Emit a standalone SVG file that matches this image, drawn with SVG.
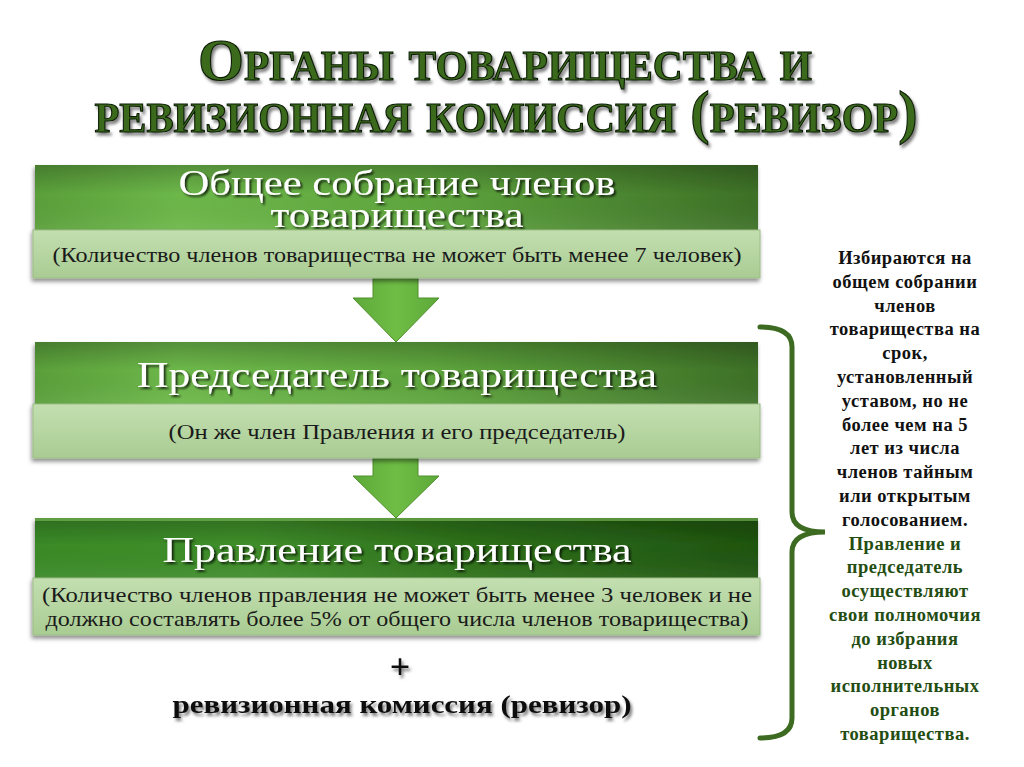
<svg xmlns="http://www.w3.org/2000/svg" width="1024" height="767" viewBox="0 0 1024 767">
  <defs>
    <linearGradient id="gh1" x1="0" y1="0" x2="1" y2="0">
      <stop offset="0" stop-color="#5a9f3a"/>
      <stop offset="0.2" stop-color="#6db84a"/>
      <stop offset="0.55" stop-color="#5ea53d"/>
      <stop offset="1" stop-color="#3d7027"/>
    </linearGradient>
    <linearGradient id="gh3" x1="0" y1="0" x2="1" y2="0">
      <stop offset="0" stop-color="#3a8a27"/>
      <stop offset="0.3" stop-color="#3f8e2a"/>
      <stop offset="0.6" stop-color="#2d7019"/>
      <stop offset="1" stop-color="#1f5410"/>
    </linearGradient>
    <linearGradient id="gv" x1="0" y1="0" x2="0" y2="1">
      <stop offset="0" stop-color="#000" stop-opacity="0.22"/>
      <stop offset="0.45" stop-color="#000" stop-opacity="0"/>
      <stop offset="1" stop-color="#fff" stop-opacity="0.06"/>
    </linearGradient>
    <linearGradient id="gl" x1="0" y1="0" x2="0" y2="1">
      <stop offset="0" stop-color="#c3dfb0"/>
      <stop offset="1" stop-color="#a9cc93"/>
    </linearGradient>
    <linearGradient id="ga" x1="0" y1="0" x2="1" y2="0">
      <stop offset="0" stop-color="#5ea93a"/>
      <stop offset="0.5" stop-color="#6fbd45"/>
      <stop offset="1" stop-color="#5ea93a"/>
    </linearGradient>
    <filter id="sh" x="-5%" y="-20%" width="110%" height="150%">
      <feDropShadow dx="-1" dy="3" stdDeviation="2" flood-color="#000" flood-opacity="0.45"/>
    </filter>
    <filter id="ts" x="-5%" y="-30%" width="110%" height="160%">
      <feDropShadow dx="2" dy="2" stdDeviation="1.2" flood-color="#000" flood-opacity="0.75"/>
    </filter>
    <filter id="ts2" x="-5%" y="-30%" width="110%" height="160%">
      <feDropShadow dx="2" dy="3" stdDeviation="1.5" flood-color="#000" flood-opacity="0.5"/>
    </filter>
  </defs>
  <style>
    .title { font-family: "Liberation Serif", "DejaVu Serif", serif; font-weight: bold; font-size: 60px; font-variant: small-caps; fill: #3a6a1d; stroke: #0c1a06; stroke-width: 1.1px; text-anchor: middle; }
    .head { font-family: "Liberation Serif", "DejaVu Serif", serif; font-size: 36px; fill: #ffffff; text-anchor: middle; }
    .sub { font-family: "Liberation Serif", "DejaVu Serif", serif; font-size: 22px; fill: #1a1a1a; text-anchor: middle; }
    .side { font-family: "Liberation Serif", "DejaVu Serif", serif; font-weight: bold; font-size: 18.5px; letter-spacing: 0.5px; text-anchor: middle; }
    .blk { fill: #111111; }
    .grn { fill: #234d12; }
    .rev { font-family: "Liberation Serif", "DejaVu Serif", serif; font-weight: bold; fill: #111111; text-anchor: middle; }
    .light { fill: url(#gl); stroke: #9bbd86; stroke-width: 1; }
    .arrow { fill: url(#ga); stroke: #4e8f2c; stroke-width: 1; }
  </style>

  <g id="title" filter="url(#ts2)">
    <text class="title" x="505" y="80" textLength="614" lengthAdjust="spacingAndGlyphs">Органы товарищества и</text>
    <text class="title" x="506" y="132" textLength="823" lengthAdjust="spacingAndGlyphs">ревизионная комиссия (ревизор)</text>
  </g>

  <g id="connectors">
    <path class="arrow" d="M373,278 L418,278 L418,298 L439,298 L396,342 L353,298 L373,298 Z"/>
    <path class="arrow" d="M373,458 L418,458 L418,476 L439,476 L396,518 L353,476 L373,476 Z"/>
    <path d="M760,327 Q792,327 792,347 L792,512 Q792,532 825,532 Q792,532 792,552 L792,718 Q792,738 760,738" fill="none" stroke="#3d6b21" stroke-width="5" stroke-linecap="round"/>
  </g>

  <g id="node-general-meeting">
    <g filter="url(#sh)">
      <rect x="35" y="165" width="723" height="65" fill="url(#gh1)"/>
      <rect x="35" y="165" width="723" height="65" fill="url(#gv)"/>
    </g>
    <g filter="url(#ts)">
      <text class="head" x="397" y="195" textLength="437" lengthAdjust="spacingAndGlyphs">Общее собрание членов</text>
      <text class="head" x="397" y="227" textLength="253" lengthAdjust="spacingAndGlyphs">товарищества</text>
    </g>
    <rect class="light" x="33" y="230" width="727" height="48" filter="url(#sh)"/>
    <text class="sub" x="397" y="262" textLength="689" lengthAdjust="spacingAndGlyphs">(Количество членов товарищества не может быть менее 7 человек)</text>
  </g>

  <g id="node-chairman">
    <g filter="url(#sh)">
      <rect x="35" y="342" width="723" height="62" fill="url(#gh1)"/>
      <rect x="35" y="342" width="723" height="62" fill="url(#gv)"/>
    </g>
    <text class="head" x="397" y="387" textLength="520" lengthAdjust="spacingAndGlyphs" filter="url(#ts)">Председатель товарищества</text>
    <rect class="light" x="33" y="404" width="727" height="54" filter="url(#sh)"/>
    <text class="sub" x="397" y="439" textLength="457" lengthAdjust="spacingAndGlyphs">(Он же член Правления и его председатель)</text>
  </g>

  <g id="node-board">
    <g filter="url(#sh)">
      <rect x="35" y="518" width="723" height="60" fill="url(#gh3)"/>
      <rect x="35" y="518" width="723" height="60" fill="url(#gv)"/>
      <rect x="35" y="518" width="723" height="3" fill="#7fbf5a" opacity="0.6"/>
    </g>
    <text class="head" x="397" y="562" textLength="469" lengthAdjust="spacingAndGlyphs" filter="url(#ts)">Правление товарищества</text>
    <rect class="light" x="33" y="578" width="727" height="57" filter="url(#sh)"/>
    <text class="sub" x="397" y="602" textLength="710" lengthAdjust="spacingAndGlyphs">(Количество членов правления не может быть менее 3 человек и не</text>
    <text class="sub" x="397" y="626" textLength="703" lengthAdjust="spacingAndGlyphs">должно составлять более 5% от общего числа членов товарищества)</text>
  </g>

  <g id="node-revision" filter="url(#ts2)">
    <text class="rev" x="400" y="679" font-size="36">+</text>
    <text class="rev" x="402" y="713" font-size="25" textLength="459" lengthAdjust="spacingAndGlyphs">ревизионная комиссия (ревизор)</text>
  </g>

  <g id="node-note">
    <text class="side blk" x="905" y="264">Избираются на</text>
    <text class="side blk" x="905" y="288">общем собрании</text>
    <text class="side blk" x="905" y="312">членов</text>
    <text class="side blk" x="905" y="335">товарищества на</text>
    <text class="side blk" x="905" y="359">срок,</text>
    <text class="side blk" x="905" y="383">установленный</text>
    <text class="side blk" x="905" y="407">уставом, но не</text>
    <text class="side blk" x="905" y="431">более чем на 5</text>
    <text class="side blk" x="905" y="454">лет из числа</text>
    <text class="side blk" x="905" y="478">членов тайным</text>
    <text class="side blk" x="905" y="502">или открытым</text>
    <text class="side blk" x="905" y="526">голосованием.</text>
    <text class="side grn" x="905" y="550">Правление и</text>
    <text class="side grn" x="905" y="573">председатель</text>
    <text class="side grn" x="905" y="597">осуществляют</text>
    <text class="side grn" x="905" y="621">свои полномочия</text>
    <text class="side grn" x="905" y="645">до избрания</text>
    <text class="side grn" x="905" y="669">новых</text>
    <text class="side grn" x="905" y="692">исполнительных</text>
    <text class="side grn" x="905" y="716">органов</text>
    <text class="side grn" x="905" y="740">товарищества.</text>
  </g>
</svg>
